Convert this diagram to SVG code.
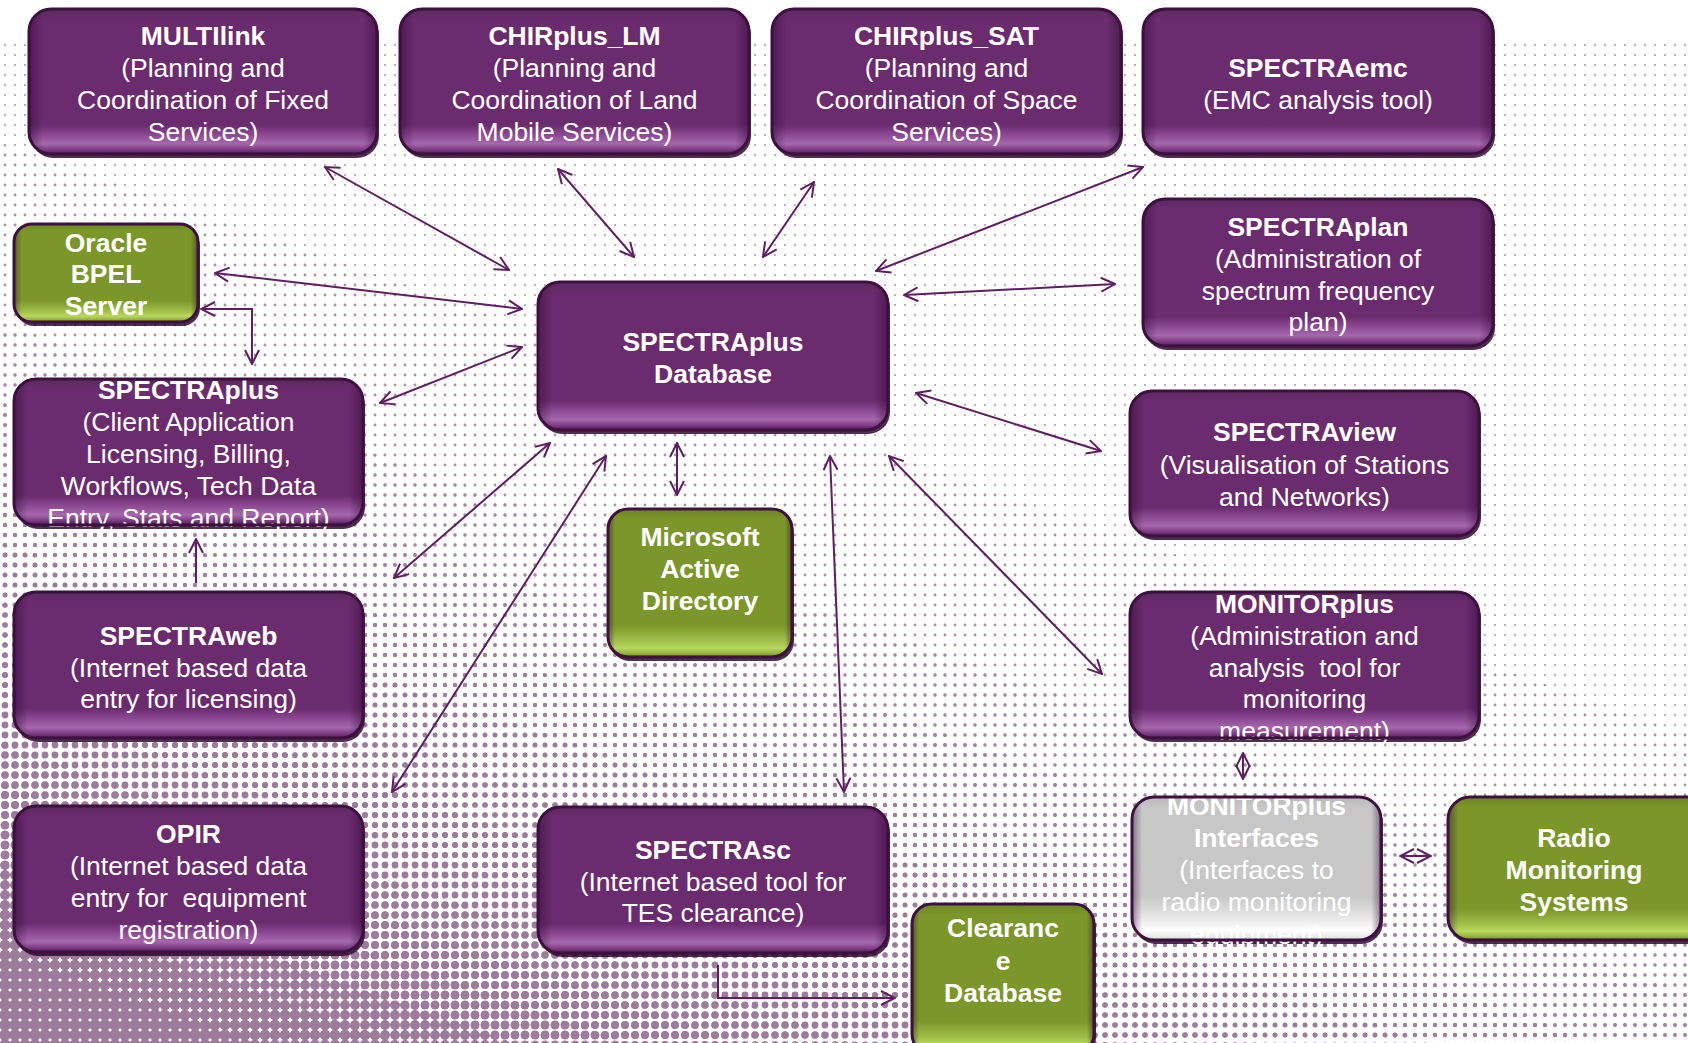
<svg xmlns="http://www.w3.org/2000/svg" width="1688" height="1043" viewBox="0 0 1688 1043">
<style>
.sh{fill:#2e0a30;opacity:.85}
.pu{fill:url(#gp)}
.gr{fill:url(#gg)}
.gy{fill:url(#gy)}
.ed{fill:url(#ge)}
.bd{fill:none;stroke:#3d103f;stroke-width:3}
.t{font-family:"Liberation Sans",Arial,Helvetica,sans-serif;font-size:26.5px;fill:#fff;text-anchor:middle}
.b{font-weight:bold}
.pre{white-space:pre}
.c{fill:none;stroke:#5e1f62;stroke-width:2}
.both{marker-start:url(#ah);marker-end:url(#ah)}
.one{marker-end:url(#ah)}
</style>
<defs>
<linearGradient id="gp" x1="0" y1="0" x2="0" y2="1">
<stop offset="0" stop-color="#5a2a5e"/>
<stop offset="0.07" stop-color="#6b2b6f"/>
<stop offset="0.8" stop-color="#6b2b6f"/>
<stop offset="0.87" stop-color="#8c4a93"/>
<stop offset="0.93" stop-color="#a668ad"/>
<stop offset="0.97" stop-color="#7d3c84"/>
<stop offset="1" stop-color="#4a1a4e"/>
</linearGradient>
<linearGradient id="gg" x1="0" y1="0" x2="0" y2="1">
<stop offset="0" stop-color="#6c8624"/>
<stop offset="0.07" stop-color="#7b9629"/>
<stop offset="0.78" stop-color="#7b9629"/>
<stop offset="0.88" stop-color="#9cbb45"/>
<stop offset="0.94" stop-color="#b9d85e"/>
<stop offset="0.98" stop-color="#8fae38"/>
<stop offset="1" stop-color="#5a6a20"/>
</linearGradient>
<linearGradient id="gy" x1="0" y1="0" x2="0" y2="1">
<stop offset="0" stop-color="#b8b8b8"/>
<stop offset="0.07" stop-color="#c6c6c6"/>
<stop offset="0.7" stop-color="#c8c8c8"/>
<stop offset="0.85" stop-color="#e8e8e8"/>
<stop offset="0.93" stop-color="#ffffff"/>
<stop offset="1" stop-color="#dddddd"/>
</linearGradient>
<linearGradient id="ge" x1="0" y1="0" x2="1" y2="0">
<stop offset="0" stop-color="#2a0830" stop-opacity="0.45"/>
<stop offset="0.04" stop-color="#2a0830" stop-opacity="0"/>
<stop offset="0.96" stop-color="#2a0830" stop-opacity="0"/>
<stop offset="1" stop-color="#2a0830" stop-opacity="0.45"/>
</linearGradient>
<pattern id="h0" width="10" height="10" patternUnits="userSpaceOnUse"><circle cx="5" cy="5" r="1.1" fill="#b49ab2"/></pattern>
<pattern id="h1" width="10" height="10" patternUnits="userSpaceOnUse"><circle cx="5" cy="5" r="1.45" fill="#ad92ab"/></pattern>
<pattern id="h2" width="10" height="10" patternUnits="userSpaceOnUse"><circle cx="5" cy="5" r="1.7" fill="#a68aa4"/></pattern>
<pattern id="h3" width="10" height="10" patternUnits="userSpaceOnUse"><circle cx="5" cy="5" r="1.95" fill="#a284a0"/></pattern>
<pattern id="h4" width="10" height="10" patternUnits="userSpaceOnUse"><circle cx="5" cy="5" r="2.2" fill="#9e809c"/></pattern>
<pattern id="h5" width="10" height="10" patternUnits="userSpaceOnUse"><circle cx="5" cy="5" r="2.5" fill="#9c7c9a"/></pattern>
<pattern id="h6" width="10" height="10" patternUnits="userSpaceOnUse"><circle cx="5" cy="5" r="2.8" fill="#9c7c9a"/></pattern>
<pattern id="h7" width="10" height="10" patternUnits="userSpaceOnUse"><circle cx="5" cy="5" r="3.1" fill="#9c7c9a"/></pattern>
<pattern id="h8" width="10" height="10" patternUnits="userSpaceOnUse"><circle cx="5" cy="5" r="3.4" fill="#9c7c9a"/></pattern>
<pattern id="h9" width="10" height="10" patternUnits="userSpaceOnUse"><circle cx="5" cy="5" r="3.8" fill="#9c7c9a"/></pattern>
<pattern id="h10" width="10" height="10" patternUnits="userSpaceOnUse"><circle cx="5" cy="5" r="4.1" fill="#9c7c9a"/></pattern>
<pattern id="h11" width="10" height="10" patternUnits="userSpaceOnUse"><circle cx="5" cy="5" r="4.5" fill="#9c7c9a"/></pattern>
<pattern id="h12" width="10" height="10" patternUnits="userSpaceOnUse"><circle cx="5" cy="5" r="4.9" fill="#9c7c9a"/></pattern>
<pattern id="h13" width="10" height="10" patternUnits="userSpaceOnUse"><circle cx="5" cy="5" r="5.3" fill="#9c7c9a"/></pattern>
<pattern id="h14" width="10" height="10" patternUnits="userSpaceOnUse"><circle cx="5" cy="5" r="5.8" fill="#9c7c9a"/></pattern>
<marker id="ah" viewBox="0 0 16 16" refX="15" refY="8" markerWidth="16" markerHeight="16" markerUnits="userSpaceOnUse" orient="auto-start-reverse"><path d="M1,1 L15,8 L1,15" fill="none" stroke="#5e1f62" stroke-width="2"/></marker>
</defs>

<g id="background">
<rect width="1688" height="1043" fill="#ffffff"/>
<rect x="0" y="36" width="1688" height="1007" fill="url(#h0)"/>
<polygon points="0,143 1688,733.8 1688,1700 0,1700" fill="url(#h1)"/>
<polygon points="0,323 1688,913.8 1688,1700 0,1700" fill="url(#h2)"/>
<polygon points="0,403 1688,993.8 1688,1700 0,1700" fill="url(#h3)"/>
<polygon points="0,483 1688,1073.8 1688,1700 0,1700" fill="url(#h4)"/>
<polygon points="0,543 1688,1133.8 1688,1700 0,1700" fill="url(#h5)"/>
<polygon points="0,603 1688,1193.8 1688,1700 0,1700" fill="url(#h6)"/>
<polygon points="0,653 1688,1243.8 1688,1700 0,1700" fill="url(#h7)"/>
<polygon points="0,703 1688,1293.8 1688,1700 0,1700" fill="url(#h8)"/>
<polygon points="0,743 1688,1333.8 1688,1700 0,1700" fill="url(#h9)"/>
<polygon points="0,783 1688,1373.8 1688,1700 0,1700" fill="url(#h10)"/>
<polygon points="0,823 1688,1413.8 1688,1700 0,1700" fill="url(#h11)"/>
<polygon points="0,863 1688,1453.8 1688,1700 0,1700" fill="url(#h12)"/>
<polygon points="0,903 1688,1493.8 1688,1700 0,1700" fill="url(#h13)"/>
<polygon points="0,953 1688,1543.8 1688,1700 0,1700" fill="url(#h14)"/>
</g>

<g id="connectors" class="c">
<path class="both" d="M325,167 L509,270"/>
<path class="both" d="M558,169 L634,257"/>
<path class="both" d="M814,182 L763,257"/>
<path class="both" d="M1143,167 L876,271"/>
<path class="both" d="M215,273 L522,309"/>
<path class="both" d="M201,309 L252,309 L252,364"/>
<path class="both" d="M380,403 L522,347"/>
<path class="both" d="M904,295 L1115,284"/>
<path class="both" d="M916,393 L1101,451"/>
<path class="both" d="M677,443 L677,495"/>
<path class="one" d="M196,583 L196,539"/>
<path class="both" d="M550,443 L394,578"/>
<path class="both" d="M606,456 L392,792"/>
<path class="both" d="M830,456 L844,792"/>
<path class="both" d="M889,456 L1102,674"/>
<path class="both" d="M1243,753 L1243,779"/>
<path class="both" d="M1400,856 L1431,856"/>
<path class="one" d="M718,965 L718,998 L895,998"/>
</g>

<g id="multilink">
<rect class="sh" x="31" y="13" width="348" height="145" rx="22"/>
<rect class="pu" x="29" y="9" width="348" height="145" rx="22"/>
<rect class="ed" x="29" y="9" width="348" height="145" rx="22"/>
<text class="t"><tspan class="b" x="203" y="45">MULTIlink</tspan><tspan x="203" y="77">(Planning and</tspan><tspan x="203" y="109">Coordination of Fixed</tspan><tspan x="203" y="141">Services)</tspan></text>
<rect class="bd" x="29" y="9" width="348" height="145" rx="22"/>
</g>

<g id="chirplus_lm">
<rect class="sh" x="402" y="13" width="349" height="145" rx="22"/>
<rect class="pu" x="400" y="9" width="349" height="145" rx="22"/>
<rect class="ed" x="400" y="9" width="349" height="145" rx="22"/>
<text class="t"><tspan class="b" x="574.5" y="45">CHIRplus_LM</tspan><tspan x="574.5" y="77">(Planning and</tspan><tspan x="574.5" y="109">Coordination of Land</tspan><tspan x="574.5" y="141">Mobile Services)</tspan></text>
<rect class="bd" x="400" y="9" width="349" height="145" rx="22"/>
</g>

<g id="chirplus_sat">
<rect class="sh" x="774" y="13" width="349" height="145" rx="22"/>
<rect class="pu" x="772" y="9" width="349" height="145" rx="22"/>
<rect class="ed" x="772" y="9" width="349" height="145" rx="22"/>
<text class="t"><tspan class="b" x="946.5" y="45">CHIRplus_SAT</tspan><tspan x="946.5" y="77">(Planning and</tspan><tspan x="946.5" y="109">Coordination of Space</tspan><tspan x="946.5" y="141">Services)</tspan></text>
<rect class="bd" x="772" y="9" width="349" height="145" rx="22"/>
</g>

<g id="spectraemc">
<rect class="sh" x="1145" y="13" width="350" height="145" rx="22"/>
<rect class="pu" x="1143" y="9" width="350" height="145" rx="22"/>
<rect class="ed" x="1143" y="9" width="350" height="145" rx="22"/>
<text class="t"><tspan class="b" x="1318" y="77">SPECTRAemc</tspan><tspan x="1318" y="109">(EMC analysis tool)</tspan></text>
<rect class="bd" x="1143" y="9" width="350" height="145" rx="22"/>
</g>

<g id="oracle_bpel">
<rect class="sh" x="16" y="228" width="184" height="98" rx="18"/>
<rect class="gr" x="14" y="224" width="184" height="98" rx="18"/>
<rect class="ed" x="14" y="224" width="184" height="98" rx="18"/>
<text class="t b"><tspan x="106" y="252">Oracle</tspan><tspan x="106" y="283">BPEL</tspan><tspan x="106" y="315">Server</tspan></text>
<rect class="bd" x="14" y="224" width="184" height="98" rx="18"/>
</g>

<g id="spectraplan">
<rect class="sh" x="1145" y="203" width="350" height="147" rx="22"/>
<rect class="pu" x="1143" y="199" width="350" height="147" rx="22"/>
<rect class="ed" x="1143" y="199" width="350" height="147" rx="22"/>
<text class="t"><tspan class="b" x="1318" y="236">SPECTRAplan</tspan><tspan x="1318" y="268">(Administration of</tspan><tspan x="1318" y="300">spectrum frequency</tspan><tspan x="1318" y="331">plan)</tspan></text>
<rect class="bd" x="1143" y="199" width="350" height="147" rx="22"/>
</g>

<g id="spectraplus_db">
<rect class="sh" x="540" y="286" width="350" height="148" rx="22"/>
<rect class="pu" x="538" y="282" width="350" height="148" rx="22"/>
<rect class="ed" x="538" y="282" width="350" height="148" rx="22"/>
<text class="t b"><tspan x="713" y="351">SPECTRAplus</tspan><tspan x="713" y="383">Database</tspan></text>
<rect class="bd" x="538" y="282" width="350" height="148" rx="22"/>
</g>

<g id="spectraplus_client">
<rect class="sh" x="16" y="383" width="349" height="146" rx="22"/>
<rect class="pu" x="14" y="379" width="349" height="146" rx="22"/>
<rect class="ed" x="14" y="379" width="349" height="146" rx="22"/>
<text class="t"><tspan class="b" x="188.5" y="399">SPECTRAplus</tspan><tspan x="188.5" y="431">(Client Application</tspan><tspan x="188.5" y="463">Licensing, Billing,</tspan><tspan x="188.5" y="495">Workflows, Tech Data</tspan><tspan x="188.5" y="527">Entry, Stats and Report)</tspan></text>
<rect class="bd" x="14" y="379" width="349" height="146" rx="22"/>
</g>

<g id="spectraview">
<rect class="sh" x="1132" y="395" width="349" height="145" rx="22"/>
<rect class="pu" x="1130" y="391" width="349" height="145" rx="22"/>
<rect class="ed" x="1130" y="391" width="349" height="145" rx="22"/>
<text class="t"><tspan class="b" x="1304.5" y="441">SPECTRAview</tspan><tspan x="1304.5" y="474">(Visualisation of Stations</tspan><tspan x="1304.5" y="506">and Networks)</tspan></text>
<rect class="bd" x="1130" y="391" width="349" height="145" rx="22"/>
</g>

<g id="ms_active_directory">
<rect class="sh" x="610" y="513" width="184" height="148" rx="20"/>
<rect class="gr" x="608" y="509" width="184" height="148" rx="20"/>
<rect class="ed" x="608" y="509" width="184" height="148" rx="20"/>
<text class="t b"><tspan x="700" y="546">Microsoft</tspan><tspan x="700" y="578">Active</tspan><tspan x="700" y="610">Directory</tspan></text>
<rect class="bd" x="608" y="509" width="184" height="148" rx="20"/>
</g>

<g id="spectraweb">
<rect class="sh" x="16" y="596" width="349" height="146" rx="22"/>
<rect class="pu" x="14" y="592" width="349" height="146" rx="22"/>
<rect class="ed" x="14" y="592" width="349" height="146" rx="22"/>
<text class="t"><tspan class="b" x="188.5" y="645">SPECTRAweb</tspan><tspan x="188.5" y="677">(Internet based data</tspan><tspan x="188.5" y="708">entry for licensing)</tspan></text>
<rect class="bd" x="14" y="592" width="349" height="146" rx="22"/>
</g>

<g id="monitorplus">
<rect class="sh" x="1132" y="596" width="349" height="146" rx="22"/>
<rect class="pu" x="1130" y="592" width="349" height="146" rx="22"/>
<rect class="ed" x="1130" y="592" width="349" height="146" rx="22"/>
<text class="t"><tspan class="b" x="1304.5" y="613">MONITORplus</tspan><tspan x="1304.5" y="645">(Administration and</tspan><tspan class="pre" x="1304.5" y="677">analysis  tool for</tspan><tspan x="1304.5" y="708">monitoring</tspan><tspan x="1304.5" y="740">measurement)</tspan></text>
<rect class="bd" x="1130" y="592" width="349" height="146" rx="22"/>
</g>

<g id="monitorplus_interfaces">
<rect class="sh" x="1134" y="801" width="249" height="143" rx="22"/>
<rect class="gy" x="1132" y="797" width="249" height="143" rx="22"/>
<rect class="ed" x="1132" y="797" width="249" height="143" rx="22"/>
<text class="t"><tspan class="b" x="1256.5" y="815">MONITORplus</tspan><tspan class="b" x="1256.5" y="847">Interfaces</tspan><tspan x="1256.5" y="879">(Interfaces to</tspan><tspan x="1256.5" y="911">radio monitoring</tspan><tspan x="1256.5" y="944">equipment)</tspan></text>
<rect class="bd" x="1132" y="797" width="249" height="143" rx="22"/>
</g>

<g id="radio_monitoring_systems">
<rect class="sh" x="1450" y="801" width="260" height="143" rx="22"/>
<rect class="gr" x="1448" y="797" width="260" height="143" rx="22"/>
<rect class="ed" x="1448" y="797" width="260" height="143" rx="22"/>
<text class="t b"><tspan x="1574" y="847">Radio</tspan><tspan x="1574" y="879">Monitoring</tspan><tspan x="1574" y="911">Systems</tspan></text>
<rect class="bd" x="1448" y="797" width="260" height="143" rx="22"/>
</g>

<g id="opir">
<rect class="sh" x="16" y="810" width="349" height="146" rx="22"/>
<rect class="pu" x="14" y="806" width="349" height="146" rx="22"/>
<rect class="ed" x="14" y="806" width="349" height="146" rx="22"/>
<text class="t"><tspan class="b" x="188.5" y="843">OPIR</tspan><tspan x="188.5" y="875">(Internet based data</tspan><tspan class="pre" x="188.5" y="907">entry for  equipment</tspan><tspan x="188.5" y="939">registration)</tspan></text>
<rect class="bd" x="14" y="806" width="349" height="146" rx="22"/>
</g>

<g id="spectrasc">
<rect class="sh" x="540" y="811" width="350" height="146" rx="22"/>
<rect class="pu" x="538" y="807" width="350" height="146" rx="22"/>
<rect class="ed" x="538" y="807" width="350" height="146" rx="22"/>
<text class="t"><tspan class="b" x="713" y="859">SPECTRAsc</tspan><tspan x="713" y="891">(Internet based tool for</tspan><tspan x="713" y="922">TES clearance)</tspan></text>
<rect class="bd" x="538" y="807" width="350" height="146" rx="22"/>
</g>

<g id="clearance_database">
<rect class="sh" x="914" y="908" width="182" height="150" rx="20"/>
<rect class="gr" x="912" y="904" width="182" height="150" rx="20"/>
<rect class="ed" x="912" y="904" width="182" height="150" rx="20"/>
<text class="t b"><tspan x="1003" y="937">Clearanc</tspan><tspan x="1003" y="970">e</tspan><tspan x="1003" y="1002">Database</tspan></text>
<rect class="bd" x="912" y="904" width="182" height="150" rx="20"/>
</g>
</svg>
